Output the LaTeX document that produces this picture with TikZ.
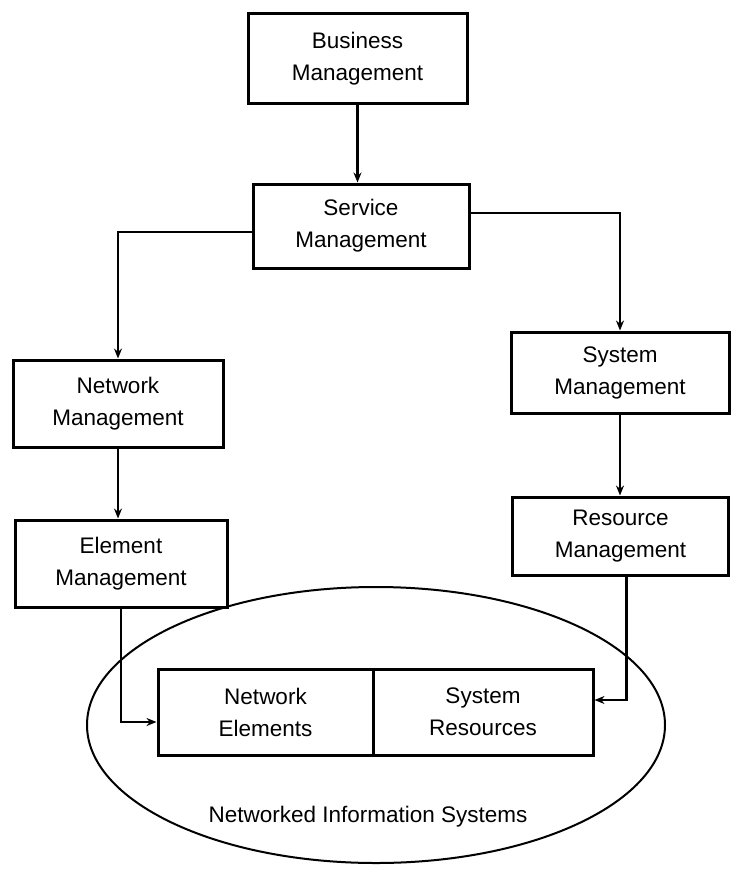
\documentclass[tikz,border=0pt]{standalone}
\usepackage{fontspec}
\setmainfont{Liberation Sans}
\usetikzlibrary{arrows.meta,shapes.geometric}

\begin{document}
\begin{tikzpicture}[x=1pt,y=-1pt,
  box/.style={draw, line width=3pt, fill=white, align=center, inner sep=0pt,
    font=\fontsize{22.5}{32}\selectfont},
  link/.style={line width=2.2pt, -{Stealth[length=10pt,width=8pt]}}]
  \useasboundingbox (0,0) rectangle (731,872);

  % enclosing system
  \node[draw, ellipse, line width=2pt, minimum width=578pt, minimum height=276pt,
        inner sep=0pt] (nis) at (376,725) {};
  \node[font=\fontsize{22.5}{28}\selectfont] (cap) at (368,817) {Networked Information Systems};

  % management layers
  \node[box, minimum width=219pt, minimum height=90pt] (bm) at (357.5,59) {Business\\Management};
  \node[box, minimum width=216pt, minimum height=84pt] (svm) at (361,226) {Service\\Management};
  \node[box, minimum width=210pt, minimum height=87pt] (nm) at (118,403.5) {Network\\Management};
  \node[box, minimum width=212pt, minimum height=87pt] (em) at (121,563.5) {Element\\Management};
  \node[box, minimum width=218pt, minimum height=81pt] (sm) at (620,372.5) {System\\Management};
  \node[box, minimum width=216pt, minimum height=78pt] (rm) at (620.5,536) {Resource\\Management};

  % managed resources
  \node[box, minimum width=215pt, minimum height=86pt] (ne) at (265.5,712) {Network\\Elements};
  \node[box, minimum width=220pt, minimum height=86pt] (sr) at (483,712) {System\\Resources};

  % connectors
  \draw[link] (bm.south) -- (bm.south |- svm.north);
  \draw[link] ([yshift=-6pt]svm.west) -| (nm.north);
  \draw[link] ([yshift=13pt]svm.east) -| (sm.north);
  \draw[link] (nm.south) -- (nm.south |- em.north);
  \draw[link] (sm.south) -- (sm.south |- rm.north);
  \draw[link] (em.south) |- ([yshift=-10pt]ne.west);
  \draw[link] ([xshift=6pt]rm.south) |- ([yshift=12pt]sr.east);
\end{tikzpicture}
\end{document}
